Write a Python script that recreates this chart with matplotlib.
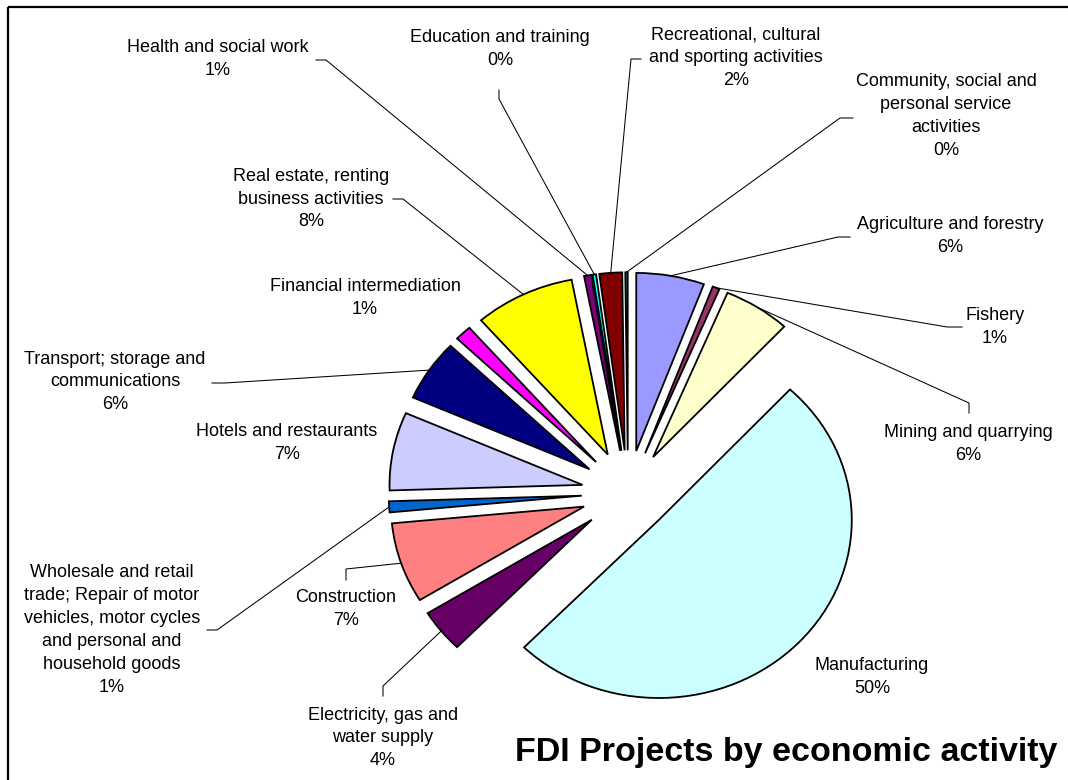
import matplotlib
matplotlib.use("Agg")
import matplotlib.pyplot as plt
import numpy as np

# ---------------- data ----------------
categories = [
    "Agriculture and forestry",
    "Fishery",
    "Mining and quarrying",
    "Manufacturing",
    "Electricity, gas and\nwater supply",
    "Construction",
    "Wholesale and retail\ntrade; Repair of motor\nvehicles, motor cycles\nand personal and\nhousehold goods",
    "Hotels and restaurants",
    "Transport; storage and\ncommunications",
    "Financial intermediation",
    "Real estate, renting\nbusiness activities",
    "Health and social work",
    "Education and training",
    "Recreational, cultural\nand sporting activities",
    "Community, social and\npersonal service\nactivities",
]
shares = [5.7, 0.6, 5.6, 50.4, 3.9, 7.3, 1.0, 7.1, 5.6, 1.4, 8.4, 0.6, 0.3, 1.9, 0.2]
colors = ["#9999FF", "#993366", "#FFFFCC", "#CCFFFF", "#660066", "#FF8080",
          "#0066CC", "#CCCCFF", "#000080", "#FF00FF", "#FFFF00", "#800080",
          "#00FFFF", "#800000", "#008080"]
title = "FDI Projects by economic activity"

# ---------------- layout (pixels) ----------------
W, H = 1068, 780
CX, CY = 628, 493          # pie centre
RX, RY = 193, 178          # pixel size of unit radius
explode = [0.24] * len(shares)
explode[3] = 0.22

label_pos = [(950, 236), (995, 327), (968, 444), (872, 677), (383, 738),
             (346, 609), (112, 630), (287, 443), (115, 382), (365, 298),
             (311, 199), (218, 59), (500, 49), (736, 58), (946, 116)]
leaders = {
    0: [(850, 237), (838, 237)],
    1: [(962, 327), (947, 327)],
    2: [(969, 413), (969, 403)],
    4: [(383, 696), (383, 686)],
    5: [(346, 580), (346, 569)],
    6: [(207, 630), (217, 630)],
    8: [(212, 383), (225, 383)],
    10: [(393, 199), (403, 199)],
    11: [(316, 60), (326, 60)],
    12: [(499, 90), (499, 99)],
    13: [(641, 59), (631, 59)],
    14: [(853, 118), (840, 118)],
}

plt.rcParams['font.family'] = ['Liberation Sans', 'DejaVu Sans']

fig = plt.figure(figsize=(W / 100, H / 100), dpi=100)
ax = fig.add_axes([0, 0, 1, 1])


def px2d(px, py):
    return ((px - CX) / RX, (CY - py) / RY)


wedges, _ = ax.pie(shares, colors=colors, explode=explode, startangle=90,
                   counterclock=False, radius=1.0,
                   wedgeprops=dict(edgecolor="black", linewidth=1.3))

ax.set_aspect('auto')
ax.set_xlim(-CX / RX, (W - CX) / RX)
ax.set_ylim((CY - H) / RY, CY / RY)
ax.axis('off')

total = sum(shares)
for i, (name, v) in enumerate(zip(categories, shares)):
    pct = 100.0 * v / total
    x, y = px2d(*label_pos[i])
    ax.text(x, y, f"{name}\n{pct:.0f}%", ha="center", va="center",
            fontsize=13, color="black", linespacing=1.46)
    if i in leaders:
        w = wedges[i]
        mid = np.deg2rad(0.5 * (w.theta1 + w.theta2))
        ax_pt = (w.center[0] + w.r * np.cos(mid), w.center[1] + w.r * np.sin(mid))
        pts = [px2d(*p) for p in leaders[i]] + [ax_pt]
        xs, ys = zip(*pts)
        ax.plot(xs, ys, color="black", linewidth=0.75)

tx, ty = px2d(786, 752)
ax.text(tx, ty, title, ha="center", va="center", fontsize=24.5,
        fontweight="bold", color="black")

# chart border (top and left visible)
bx = [px2d(8, 7), px2d(1100, 7)]
ax.plot([bx[0][0], bx[1][0]], [bx[0][1], bx[1][1]], color="black", linewidth=1.6,
        solid_capstyle="butt", clip_on=False)
by = [px2d(8, 7), px2d(8, 800)]
ax.plot([by[0][0], by[1][0]], [by[0][1], by[1][1]], color="black", linewidth=1.6,
        solid_capstyle="butt", clip_on=False)

fig.savefig("out.png", dpi=100)
